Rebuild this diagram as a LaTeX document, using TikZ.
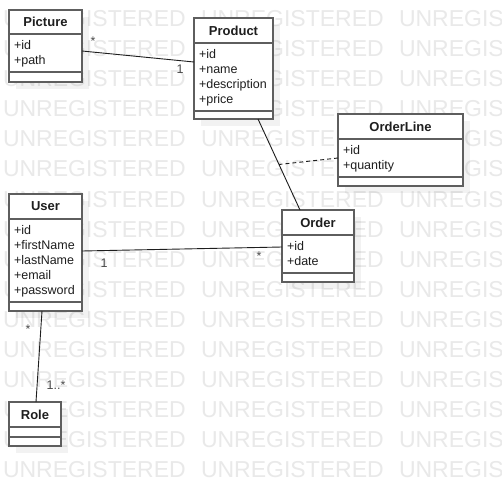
\documentclass[tikz,border=0pt]{standalone}
\usepackage{fontspec}
\setmainfont{Liberation Sans}
\usetikzlibrary{shadows}
\definecolor{boxgray}{HTML}{5E5E5E}
\definecolor{txt}{HTML}{1E1E1E}
\definecolor{wmgray}{HTML}{E9E9E9}
\begin{document}
\begin{tikzpicture}[x=1pt, y=-1pt]
\tikzset{ >=latex, inner sep=0pt, outer sep=0pt,
  cls/.style={draw=boxgray, line width=1.5pt, fill=white, anchor=north west,
    general shadow={fill=black, opacity=0.05, shadow xshift=7pt, shadow yshift=-7pt}},
  title/.style={font=\bfseries\fontsize{13}{15}\selectfont, text=txt},
  attr/.style={anchor=north west, align=left, font=\fontsize{12.5}{15}\selectfont, text=txt},
  div/.style={draw=boxgray, line width=1.5pt},
  assoc/.style={draw=txt, line width=0.9pt},
  mult/.style={font=\fontsize{12.5}{15}\selectfont, text=txt!80},
  wm/.style={anchor=base west, font=\fontsize{23}{23}\selectfont, text=wmgray},
}
\useasboundingbox (0,0) rectangle (502,486);
\fill[white] (0,0) rectangle (502,486);

% watermark
\begin{scope}
\clip (0,0) rectangle (502,486);
\foreach \r in {0,...,15}
  \foreach \c in {0,1,2}
    \node[wm] (wm\r\c) at (3+198*\c, 27+30*\r) {UNREGISTERED};
\end{scope}

% Picture
\node[cls, minimum width=73pt, minimum height=72pt] (Picture) at (9,10) {};
\node[title] (PictureT) at (45.5,22) {Picture};
\draw[div] (9,34) -- (82,34);
\draw[div] (9,72) -- (82,72);
\node[attr] (PictureA) at (14,40.5) {+id\\+path};

% Product
\node[cls, minimum width=79pt, minimum height=101pt] (Product) at (194,18) {};
\node[title] (ProductT) at (233.5,30.5) {Product};
\draw[div] (194,43) -- (273,43);
\draw[div] (194,111) -- (273,111);
\node[attr] (ProductA) at (199,49) {+id\\+name\\+description\\+price};

% OrderLine
\node[cls, minimum width=125pt, minimum height=72pt] (OrderLine) at (338,114) {};
\node[title] (OrderLineT) at (400.5,126.5) {OrderLine};
\draw[div] (338,139) -- (463,139);
\draw[div] (338,177) -- (463,177);
\node[attr] (OrderLineA) at (343,145) {+id\\+quantity};

% Order
\node[cls, minimum width=72pt, minimum height=72pt] (Order) at (282,210) {};
\node[title] (OrderT) at (318,222.5) {Order};
\draw[div] (282,235) -- (354,235);
\draw[div] (282,273) -- (354,273);
\node[attr] (OrderA) at (287,241) {+id\\+date};

% User
\node[cls, minimum width=73pt, minimum height=117pt] (User) at (9,194) {};
\node[title] (UserT) at (45.5,206.5) {User};
\draw[div] (9,219) -- (82,219);
\draw[div] (9,302) -- (82,302);
\node[attr] (UserA) at (14,225) {+id\\+firstName\\+lastName\\+email\\+password};

% Role
\node[cls, minimum width=52pt, minimum height=44pt] (Role) at (9,402) {};
\node[title] (RoleT) at (35,414.5) {Role};
\draw[div] (9,427) -- (61,427);
\draw[div] (9,437) -- (61,437);

% associations
\draw[assoc] ([yshift=-5pt]Picture.east) -- ([yshift=6.5pt]Product.west);
\draw[assoc] ([xshift=24.5pt]Product.south) -- coordinate[pos=0.5] (PO) ([xshift=-18pt]Order.north);
\draw[assoc, dash pattern=on 4pt off 3pt] ([yshift=-8pt]OrderLine.west) -- (PO);
\draw[assoc] ([yshift=1.5pt]User.east) -- ([yshift=-1pt]Order.west);
\draw[assoc] ([xshift=-3.5pt]User.south) -- ([xshift=1pt]Role.north);

\node[mult] (m1) at (93,41) {*};
\node[mult] (m2) at (180,69) {1};
\node[mult] (m3) at (104,263) {1};
\node[mult] (m4) at (259,256) {*};
\node[mult] (m5) at (28,329) {*};
\node[mult] (m6) at (56,385) {1..*};

\end{tikzpicture}
\end{document}
